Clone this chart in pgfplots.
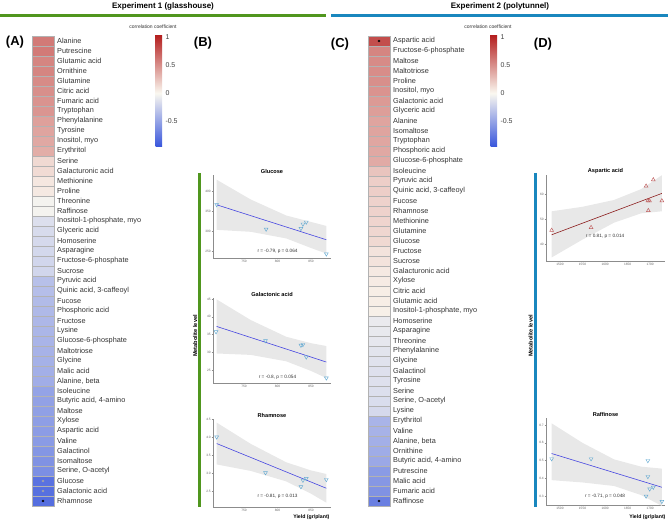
\documentclass[border=0pt]{standalone}
\usepackage{pgfplots}
\usepackage{pgfplotstable}
\pgfplotsset{compat=1.18}
\usepackage{fontspec}
\setmainfont{Liberation Sans}
\definecolor{grn}{RGB}{80,150,30}
\definecolor{blu}{RGB}{25,135,190}
\definecolor{ptblue}{RGB}{100,170,210}
\definecolor{lnblue}{RGB}{70,70,225}
\definecolor{ptred}{RGB}{190,90,90}
\definecolor{lnred}{RGB}{140,30,30}
\definecolor{band}{RGB}{232,232,232}

\pgfplotstableread{
x y v
0 0 0.60
0 1 0.60
0 2 0.55
0 3 0.55
0 4 0.52
0 5 0.50
0 6 0.48
0 7 0.47
0 8 0.42
0 9 0.40
0 10 0.38
0 11 0.36
0 12 0.15
0 13 0.14
0 14 0.08
0 15 0.07
0 16 -0.03
0 17 -0.03
0 18 -0.15
0 19 -0.17
0 20 -0.18
0 21 -0.19
0 22 -0.20
0 23 -0.20
0 24 -0.33
0 25 -0.34
0 26 -0.36
0 27 -0.37
0 28 -0.38
0 29 -0.39
0 30 -0.40
0 31 -0.41
0 32 -0.42
0 33 -0.43
0 34 -0.44
0 35 -0.50
0 36 -0.51
0 37 -0.52
0 38 -0.53
0 39 -0.54
0 40 -0.55
0 41 -0.58
0 42 -0.60
0 43 -0.62
0 44 -0.79
0 45 -0.80
0 46 -0.81
}\dataA

\pgfplotstableread{
x y v
0 0 0.81
0 1 0.55
0 2 0.52
0 3 0.51
0 4 0.50
0 5 0.48
0 6 0.45
0 7 0.43
0 8 0.40
0 9 0.40
0 10 0.39
0 11 0.38
0 12 0.37
0 13 0.25
0 14 0.20
0 15 0.20
0 16 0.18
0 17 0.18
0 18 0.17
0 19 0.16
0 20 0.15
0 21 0.10
0 22 0.10
0 23 0.07
0 24 0.06
0 25 0.05
0 26 0.05
0 27 0.04
0 28 -0.08
0 29 -0.09
0 30 -0.10
0 31 -0.12
0 32 -0.13
0 33 -0.14
0 34 -0.14
0 35 -0.15
0 36 -0.16
0 37 -0.18
0 38 -0.40
0 39 -0.41
0 40 -0.43
0 41 -0.45
0 42 -0.47
0 43 -0.55
0 44 -0.57
0 45 -0.60
0 46 -0.71
}\dataC

\pgfplotsset{
  colormap={rb}{rgb255(0cm)=(55,85,220); rgb255(0.96cm)=(250,248,240); rgb255(2.0cm)=(180,30,30)},
  hm/.style={scale only axis, width=22pt, height=470pt, xmin=-0.5, xmax=0.5,
    ymin=-0.5, ymax=46.5, y dir=reverse, clip=false, axis line style={draw=none},
    xtick=\empty, ytick={0,...,46}, yticklabel pos=right, major tick length=0pt,
    yticklabel style={font=\fontsize{7.3}{8}\selectfont, text=black!80, anchor=west, inner sep=0pt, xshift=3pt},
    point meta min=-0.96, point meta max=1.04, colormap name=rb,
    colorbar, colorbar style={at={(parent axis.north east)}, anchor=north west,
      yshift=1pt, width=6.5pt, height=112pt, ytick={-0.5,0,0.5,1},
      yticklabel style={font=\fontsize{7}{8}\selectfont, text=black!75, /pgf/number format/assume math mode=true},
      major tick length=0pt, axis line style={draw=none}}},
  cell/.style={scatter, only marks, mark=square*, mark size=5pt, mark options={xscale=2.2, line width=0.35pt},
    scatter/use mapped color={draw=black!30, fill=mapped color}, point meta=explicit},
  sc/.style={scale only axis, axis x line*=bottom, axis y line*=left,
    axis line style={black!45, line width=0.4pt, -}, tick style={black!45, line width=0.3pt},
    tick align=outside, major tick length=1.3pt,
    ticklabel style={font=\fontsize{3.2}{4}\selectfont, text=black!60, inner sep=0.8pt,
      /pgf/number format/assume math mode=true, /pgf/number format/1000 sep={}},
    every axis title/.style={at={(0.5,1)}, anchor=south, inner sep=0.8pt,
      font=\bfseries\fontsize{5.6}{6}\selectfont}},
  neg/.style={only marks, mark=triangle, mark size=2.2pt, mark options={rotate=180, ptblue, line width=0.45pt}},
  pos/.style={only marks, mark=triangle, mark size=2.2pt, mark options={ptred, line width=0.45pt}},
}

\begin{document}
\begin{tikzpicture}[x=1pt,y=1pt]
\path[use as bounding box] (0,0) rectangle (668,-521);
% header
\node[font=\bfseries\fontsize{8}{9}\selectfont] at (163,-6) {Experiment 1 (glasshouse)};
\node[font=\bfseries\fontsize{8}{9}\selectfont] at (500,-6) {Experiment 2 (polytunnel)};
\draw[grn, line width=3pt] (0,-16) -- (326,-16);
\draw[blu, line width=3pt] (331,-16) -- (668,-16);
\node[font=\bfseries\fontsize{13}{14}\selectfont] at (15,-42) {(A)};
\node[font=\bfseries\fontsize{13}{14}\selectfont] at (203,-43) {(B)};
\node[font=\bfseries\fontsize{13}{14}\selectfont] at (340,-44) {(C)};
\node[font=\bfseries\fontsize{13}{14}\selectfont] at (543,-44) {(D)};
\node[font=\fontsize{5}{6}\selectfont, text=black!80] at (153,-27) {correlation coefficient};
\node[font=\fontsize{5}{6}\selectfont, text=black!80] at (488,-27) {correlation coefficient};

% ---------- heatmap A
\begin{axis}[hm, at={(32pt,-36pt)}, anchor=north west,
  colorbar style={xshift=93pt},
  yticklabels={Alanine, Putrescine, Glutamic acid, Ornithine, Glutamine, Citric acid, Fumaric acid, Tryptophan, Phenylalanine, Tyrosine, {Inositol, myo}, Erythritol, Serine, Galacturonic acid, Methionine, Proline, Threonine, Raffinose, {Inositol-1-phosphate, myo}, Glyceric acid, Homoserine, Asparagine, Fructose-6-phosphate, Sucrose, Pyruvic acid, {Quinic acid, 3-caffeoyl}, Fucose, Phosphoric acid, Fructose, Lysine, Glucose-6-phosphate, Maltotriose, Glycine, Malic acid, {Alanine, beta}, Isoleucine, {Butyric acid, 4-amino}, Maltose, Xylose, Aspartic acid, Valine, Galactinol, Isomaltose, {Serine, O-acetyl}, Glucose, Galactonic acid, Rhamnose}]
\addplot[cell] table[x=x, y=y, meta=v] {\dataA};
\addplot[only marks, mark=asterisk, mark size=1.3pt, black!35] coordinates {(0,44) (0,45)};
\addplot[only marks, mark=asterisk, mark size=1.3pt, black] coordinates {(0,46)};
\end{axis}

% ---------- heatmap C
\begin{axis}[hm, at={(368pt,-36pt)}, anchor=north west,
  colorbar style={xshift=92pt},
  yticklabels={Aspartic acid, Fructose-6-phosphate, Maltose, Maltotriose, Proline, {Inositol, myo}, Galactonic acid, Glyceric acid, Alanine, Isomaltose, Tryptophan, Phosphoric acid, Glucose-6-phosphate, Isoleucine, Pyruvic acid, {Quinic acid, 3-caffeoyl}, Fucose, Rhamnose, Methionine, Glutamine, Glucose, Fructose, Sucrose, Galacturonic acid, Xylose, Citric acid, Glutamic acid, {Inositol-1-phosphate, myo}, Homoserine, Asparagine, Threonine, Phenylalanine, Glycine, Galactinol, Tyrosine, Serine, {Serine, O-acetyl}, Lysine, Erythritol, Valine, {Alanine, beta}, Ornithine, {Butyric acid, 4-amino}, Putrescine, Malic acid, Fumaric acid, Raffinose}]
\addplot[cell] table[x=x, y=y, meta=v] {\dataC};
\addplot[only marks, mark=asterisk, mark size=1.3pt, black] coordinates {(0,0) (0,46)};
\end{axis}

% side bars and labels
\draw[grn, line width=2.8pt] (199.6,-173) -- (199.6,-507);
\draw[blu, line width=2.8pt] (535.3,-173) -- (535.3,-507);
\node[rotate=90, font=\bfseries\fontsize{5.6}{6}\selectfont] at (195,-336) {Metabolite level};
\node[rotate=90, font=\bfseries\fontsize{5.6}{6}\selectfont] at (530.5,-336) {Metabolite level};
\node[anchor=east, font=\bfseries\fontsize{5.2}{6}\selectfont] at (333,-517.5) {Yield (gr/plant)};
\node[anchor=east, font=\bfseries\fontsize{5.2}{6}\selectfont] at (669,-517.5) {Yield (gr/plant)};

% ---------- B: Glucose
\begin{axis}[sc, at={(213pt,-175pt)}, anchor=north west, width=118pt, height=83pt,
  xmin=703.5, xmax=880, ymin=234, ymax=441, xtick={750,800,850}, ytick={250,300,350,400},
  title={Glucose}]
\addplot[fill=band, draw=none] coordinates {(709,429.2) (760,379.9) (813,340.0) (850,324) (873,314) (873,245) (850,259) (813,282.8) (760,299.3) (709,304.2)};
\addplot[lnblue, line width=0.6pt] coordinates {(709,366.7) (873,279.5)};
\addplot[neg] coordinates {(709,367) (783,306) (835,307.5) (838,318.5) (843,323.5) (873,244)};
\node[font=\fontsize{4.7}{5}\selectfont, text=black!80] at (axis cs:800,251) {r = -0.79, p = 0.064};
\end{axis}

% ---------- B: Galactonic acid
\begin{axis}[sc, at={(213pt,-298pt)}, anchor=north west, width=118pt, height=85pt,
  xmin=703.5, xmax=880, ymin=21.4, ymax=45.3, xtick={750,800,850}, ytick={25,30,35,40,45},
  title={Galactonic acid}]
\addplot[fill=band, draw=none] coordinates {(709,44.9) (760,39.1) (813,34.4) (850,32.6) (873,31.8) (873,22.8) (850,24.8) (813,27.5) (760,29.3) (709,29.7)};
\addplot[lnblue, line width=0.6pt] coordinates {(709,37.3) (873,27.3)};
\addplot[neg] coordinates {(708,35.8) (782,33.3) (835,32.0) (838,32.2) (843,28.7) (873,22.8)};
\node[font=\fontsize{4.7}{5}\selectfont, text=black!80] at (axis cs:800,23.1) {r = -0.8, p = 0.054};
\end{axis}

% ---------- B: Rhamnose
\begin{axis}[sc, at={(213pt,-419pt)}, anchor=north west, width=118pt, height=88pt,
  xmin=703.5, xmax=880, ymin=2.06, ymax=4.5, xtick={750,800,850}, ytick={2.5,3.0,3.5,4.0,4.5},
  yticklabel style={/pgf/number format/.cd, fixed, fixed zerofill, precision=1},
  title={Rhamnose}]
\addplot[fill=band, draw=none] coordinates {(709,4.40) (760,3.81) (813,3.30) (850,3.075) (873,2.976) (873,2.18) (850,2.43) (813,2.77) (760,3.06) (709,3.24)};
\addplot[lnblue, line width=0.6pt] coordinates {(709,3.82) (873,2.58)};
\addplot[neg] coordinates {(709,4.0) (782,3.01) (835,2.62) (838,2.80) (843,2.85) (873,2.82)};
\node[font=\fontsize{4.7}{5}\selectfont, text=black!80] at (axis cs:800,2.36) {r = -0.81, p = 0.013};
\end{axis}

% ---------- D: Aspartic acid
\begin{axis}[sc, at={(546pt,-175pt)}, anchor=north west, width=119pt, height=86pt,
  xmin=1469, xmax=1733, ymin=33.5, ymax=67.6, xtick={1500,1550,1600,1650,1700}, ytick={40,50,60},
  title={Aspartic acid}]
\addplot[fill=band, draw=none] coordinates {(1481.5,53.2) (1550,55.0) (1620,57.7) (1680,62.0) (1726,67.5) (1726,53.2) (1680,52.4) (1620,48.7) (1550,42.0) (1481.5,34.9)};
\addplot[lnred, line width=0.6pt] coordinates {(1481.5,43.9) (1726,60.3)};
\addplot[pos] coordinates {(1481.5,45.7) (1569,46.8) (1691,63.2) (1707,65.7) (1695,57.4) (1698.5,57.4) (1696,53.5) (1726,57.4)};
\node[font=\fontsize{4.7}{5}\selectfont, text=black!80] at (axis cs:1600,43.3) {r = 0.81, p = 0.014};
\end{axis}

% ---------- D: Raffinose
\begin{axis}[sc, at={(546pt,-418pt)}, anchor=north west, width=119pt, height=87pt,
  xmin=1469, xmax=1733, ymin=0.25, ymax=0.74, xtick={1500,1550,1600,1650,1700}, ytick={0.3,0.4,0.5,0.6,0.7},
  title={Raffinose}]
\addplot[fill=band, draw=none] coordinates {(1481.5,0.71) (1550,0.60) (1620,0.507) (1680,0.466) (1726,0.455) (1726,0.245) (1680,0.306) (1620,0.357) (1550,0.377) (1481.5,0.39)};
\addplot[lnblue, line width=0.6pt] coordinates {(1481.5,0.54) (1726,0.35)};
\addplot[neg] coordinates {(1481.5,0.51) (1569,0.51) (1695,0.50) (1695,0.41) (1699,0.34) (1691,0.30) (1707,0.35) (1726,0.27)};
\node[font=\fontsize{4.7}{5}\selectfont, text=black!80] at (axis cs:1600,0.30) {r = -0.71, p = 0.048};
\end{axis}
\end{tikzpicture}
\end{document}
